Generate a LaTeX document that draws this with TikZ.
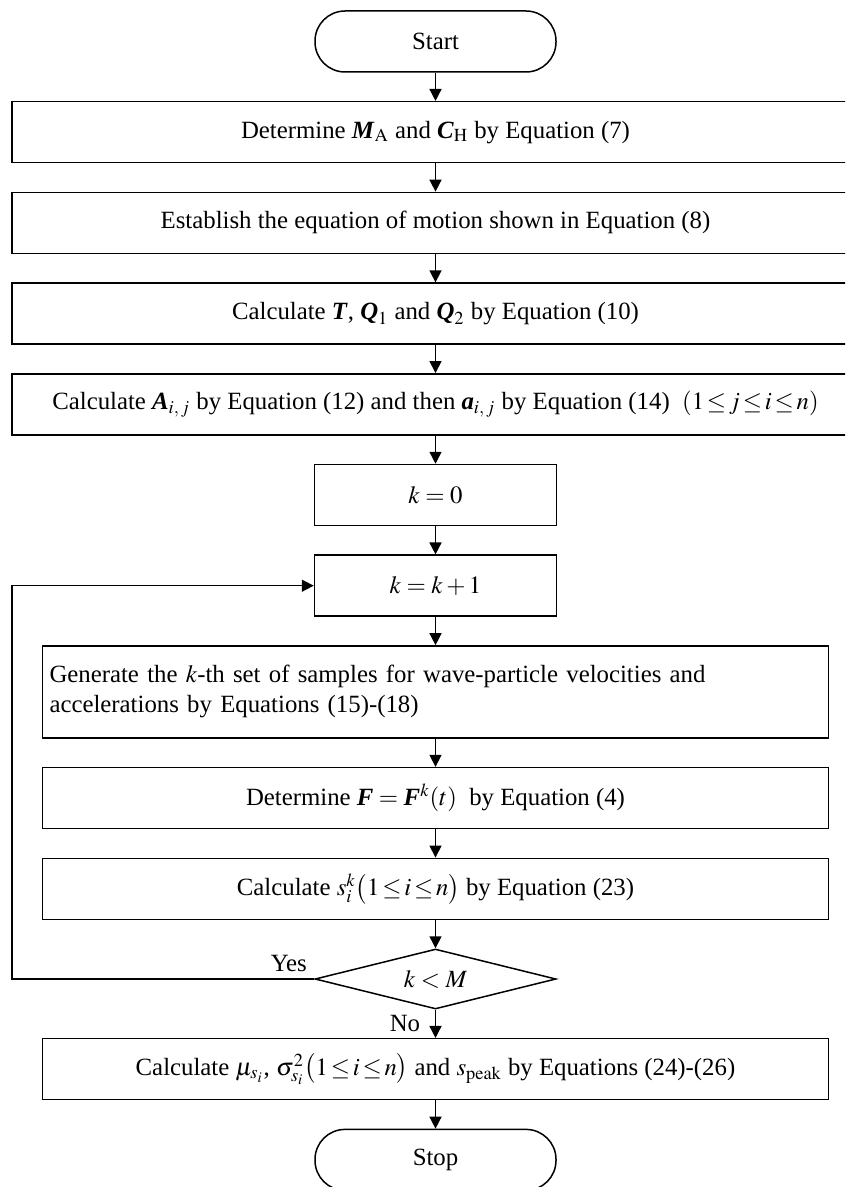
\documentclass[tikz,border=0pt]{standalone}
\usepackage{amsmath}
\usepackage{mathptmx}
\usepackage{fontspec}
\setmainfont{Liberation Serif}
\usetikzlibrary{positioning,shapes.geometric,arrows.meta}
\newcommand{\bv}[1]{\textbf{\textit{#1}}}
\newcommand{\lle}{\,{\le}\,}
\tikzstyle{terminal} = [draw, rectangle, rounded corners=15pt, minimum width=120.5pt, minimum height=30.5pt]
\tikzstyle{longbox} = [draw, rectangle, minimum width=423.5pt, minimum height=30.5pt]
\tikzstyle{midbox} = [draw, rectangle, minimum width=393pt, minimum height=30.5pt]
\tikzstyle{shortbox} = [draw, rectangle, minimum width=121pt, minimum height=30.5pt]
\tikzstyle{decision} = [draw, diamond, aspect=4, minimum width=120.5pt, minimum height=30pt, inner sep=0pt]

\begin{document}
\begin{tikzpicture}[x=0.5pt, y=-0.5pt, node distance=14.1pt, line width=0.75pt,
  >={Triangle[length=6pt,width=6pt]}]
  \tikzstyle{every node}=[font=\fontsize{12.4}{15}\selectfont]
  \useasboundingbox (0,0) rectangle (845,1187);
  \clip (0,0) rectangle (845,1187);

  \node[terminal] (start) at (435.5,41.5) {Start};
  \node[longbox, below=of start] (mc) {Determine $\bv{M}_{\mathrm{A}}$ and $\bv{C}_{\mathrm{H}}$ by Equation (7)};
  \node[longbox, below=of mc] (eom) {Establish the equation of motion shown in Equation (8)};
  \node[longbox, below=of eom] (tq) {Calculate $\bv{T}$, $\bv{Q}_1$ and $\bv{Q}_2$ by Equation (10)};
  \node[longbox, below=of tq] (aij) {Calculate $\bv{A}_{i,\,j}$ by Equation (12) and then $\bv{a}_{i,\,j}$ by Equation (14)\ \ $(1\lle j\lle i\lle n)$};
  \node[shortbox, below=of aij] (kzero) {$k=0$};
  \node[shortbox, below=of kzero] (kinc) {$k=k+1$};
  \node[midbox, below=of kinc, minimum height=46pt, align=left, text width=386pt, inner sep=3pt] (gen)
    {Generate the $k$-th set of samples for wave-particle velocities and\\accelerations by Equations (15)-(18)};
  \node[midbox, below=of gen] (force) {Determine $\bv{F}=\bv{F}^{k}(t)$\ \ by Equation (4)};
  \node[midbox, below=of force] (resp) {Calculate $s_i^k\bigl(1\lle i\lle n\bigr)$ by Equation (23)};
  \node[decision, below=of resp] (check) {$k<M$};
  \node[midbox, below=of check] (final) {Calculate $\mu_{s_i}$, $\sigma_{s_i}^2\bigl(1\lle i\lle n\bigr)$ and $s_{\mathrm{peak}}$\ by Equations (24)-(26)};
  \node[terminal, below=of final] (stop) {Stop};
  \coordinate (back) at (12,0);

  % main flow
  \foreach \a/\b in {start/mc, mc/eom, eom/tq, tq/aij, aij/kzero, kzero/kinc, kinc/gen, gen/force, force/resp, resp/check, final/stop}
    \draw[->] (\a) -- (\b);
  \draw[->] (check) -- node[left=4pt] {No} (final);
  % loop back
  \draw[->] (check.west) node[above left] {Yes} -- (check.west -| back) |- (kinc.west);
\end{tikzpicture}
\end{document}
